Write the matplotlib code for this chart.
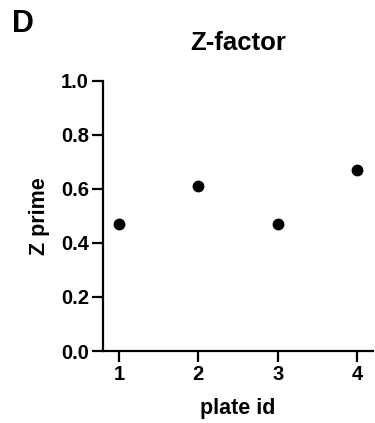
import matplotlib.pyplot as plt

plt.rcParams['font.family'] = ['Liberation Sans', 'DejaVu Sans']
plt.rcParams['font.weight'] = 'bold'

# data
plate_id = [1, 2, 3, 4]
z_prime = [0.47, 0.61, 0.47, 0.67]
y_ticks = [0.0, 0.2, 0.4, 0.6, 0.8, 1.0]

fig = plt.figure(figsize=(3.75, 4.23), dpi=100)
ax = fig.add_axes([0.2747, 0.1702, 0.7203, 0.6388])

ax.plot(plate_id, z_prime, 'o', color='black', markersize=7.5, clip_on=False)

ax.set_xlim(0.8, 4.2)
ax.set_ylim(0, 1.0)
ax.set_xticks(plate_id)
ax.set_yticks(y_ticks)
ax.set_yticklabels(['%.1f' % t for t in y_ticks])

for s in ['top', 'right']:
    ax.spines[s].set_visible(False)
for s in ['left', 'bottom']:
    ax.spines[s].set_linewidth(1.6)
ax.tick_params(width=1.6, length=8, labelsize=14.5, pad=2)
for lab in ax.get_xticklabels() + ax.get_yticklabels():
    lab.set_fontweight('bold')

ax.set_title('Z-factor', fontsize=18.5, fontweight='bold', pad=22)
ax.set_xlabel('plate id', fontsize=15.5, fontweight='bold', labelpad=10)
ax.set_ylabel('Z prime', fontsize=15.5, fontweight='bold', labelpad=8)

fig.text(0.032, 0.978, 'D', fontsize=22, fontweight='bold', va='top', ha='left')

fig.savefig('out.png', dpi=100)
